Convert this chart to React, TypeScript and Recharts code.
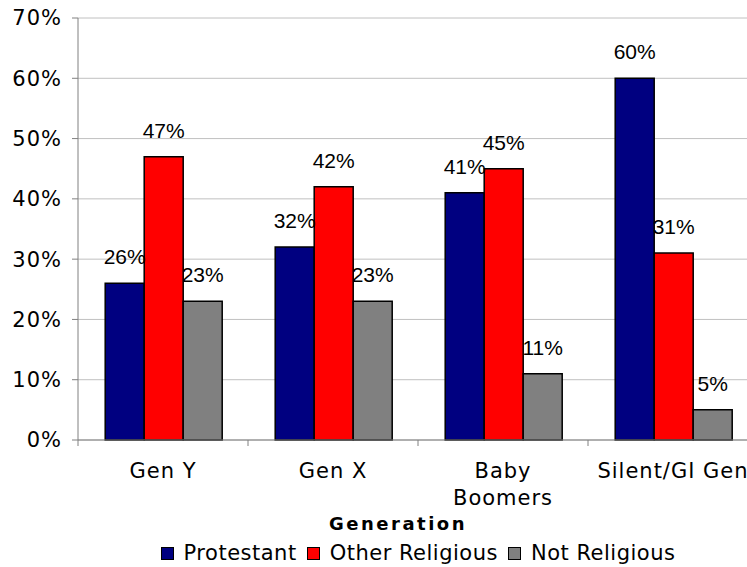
import React from "react";
import {
  BarChart,
  Bar,
  XAxis,
  YAxis,
  CartesianGrid,
  Legend,
  LabelList,
} from "recharts";

const categories = ["Gen Y", "Gen X", "Baby Boomers", "Silent/GI Gen"];
const tickLines = [["Gen Y"], ["Gen X"], ["Baby", "Boomers"], ["Silent/GI Gen"]];
const protestant = [26, 32, 41, 60];
const otherReligious = [47, 42, 45, 31];
const notReligious = [23, 23, 11, 5];
const yTicks = [0, 10, 20, 30, 40, 50, 60, 70];
const seriesNames = ["Protestant", "Other Religious", "Not Religious"];
const seriesColors = ["#000080", "#ff0000", "#808080"];

const data = categories.map((name, i) => ({
  name,
  protestant: protestant[i],
  otherReligious: otherReligious[i],
  notReligious: notReligious[i],
}));

const CHART_W = 780;
const CHART_H = 567;
const Y_AXIS_W = 78;
const MARGIN = { top: 18, right: 22, bottom: 27, left: 0 };
const PLOT_W = CHART_W - MARGIN.left - MARGIN.right - Y_AXIS_W;
const BAND = PLOT_W / categories.length;
const TICK = 6;

const axisFont = "'DejaVu Sans', Verdana, sans-serif";
const labelFont = "'Liberation Sans', Arial, sans-serif";

function CategoryTick(props: any) {
  const { x, y, payload } = props;
  const i = categories.indexOf(payload.value);
  const lines = tickLines[i] ?? [String(payload.value)];
  const axisY = y - TICK;
  const edge = x - BAND / 2;
  return (
    <g>
      <line x1={edge} x2={edge} y1={axisY} y2={axisY + TICK} stroke="#808080" />
      <text
        x={x}
        y={axisY + 38}
        textAnchor="middle"
        fontFamily={axisFont}
        fontSize={21}
        letterSpacing={1}
        fill="#000"
      >
        {lines.map((l, k) => (
          <tspan key={k} x={x} dy={k === 0 ? 0 : 27}>
            {l}
          </tspan>
        ))}
      </text>
    </g>
  );
}

function AxisTitle(props: any) {
  const { viewBox } = props;
  return (
    <text
      x={viewBox.x + viewBox.width / 2 - 20}
      y={viewBox.y + 90}
      textAnchor="middle"
      fontFamily={axisFont}
      fontWeight="bold"
      fontSize={18}
      letterSpacing={2.5}
      fill="#000"
    >
      Generation
    </text>
  );
}

function LegendBox() {
  return (
    <div
      style={{
        display: "flex",
        justifyContent: "center",
        alignItems: "center",
        gap: 10,
        fontFamily: axisFont,
        fontSize: 21,
        letterSpacing: 0.5,
        color: "#000",
        whiteSpace: "nowrap",
      }}
    >
      {seriesNames.map((n, i) => (
        <span key={n} style={{ display: "inline-flex", alignItems: "center" }}>
          <span
            style={{
              display: "inline-block",
              width: 13,
              height: 13,
              boxSizing: "border-box",
              background: seriesColors[i],
              border: "1.5px solid #000",
              marginRight: 10,
            }}
          />
          {n}
        </span>
      ))}
    </div>
  );
}

const fmt = (v: any) => `${v}%`;

export default function App() {
  const keys = ["protestant", "otherReligious", "notReligious"];
  return (
    <div
      style={{
        position: "absolute",
        left: 0,
        top: 0,
        width: 747,
        height: 567,
        overflow: "hidden",
        background: "#fff",
      }}
    >
      <BarChart
        width={CHART_W}
        height={CHART_H}
        data={data}
        margin={MARGIN}
        barCategoryGap="16%"
        barGap={0}
      >
        <CartesianGrid vertical={false} stroke="#c0c0c0" />
        <XAxis
          dataKey="name"
          axisLine={{ stroke: "#808080" }}
          tickLine={false}
          tickSize={TICK}
          tickMargin={0}
          height={100}
          interval={0}
          tick={<CategoryTick />}
          label={<AxisTitle />}
        />
        <YAxis
          width={Y_AXIS_W}
          domain={[0, 70]}
          ticks={yTicks}
          tickFormatter={fmt}
          axisLine={{ stroke: "#808080" }}
          tickLine={{ stroke: "#808080" }}
          tickSize={TICK}
          tickMargin={10}
          tick={{
            fill: "#000",
            fontSize: 21,
            fontFamily: axisFont,
            letterSpacing: 1,
          }}
        />
        <Legend
          layout="horizontal"
          verticalAlign="middle"
          align="center"
          content={<LegendBox />}
          wrapperStyle={{ top: 541, left: Y_AXIS_W, width: PLOT_W, bottom: "auto" }}
        />
        {keys.map((k, i) => (
          <Bar
            key={k}
            dataKey={k}
            name={seriesNames[i]}
            fill={seriesColors[i]}
            stroke="#000"
            strokeWidth={1.5}
            isAnimationActive={false}
          >
            <LabelList
              dataKey={k}
              position="top"
              offset={19}
              formatter={fmt}
              fill="#000"
              fontSize={21}
              fontFamily={labelFont}
            />
          </Bar>
        ))}
      </BarChart>
    </div>
  );
}
